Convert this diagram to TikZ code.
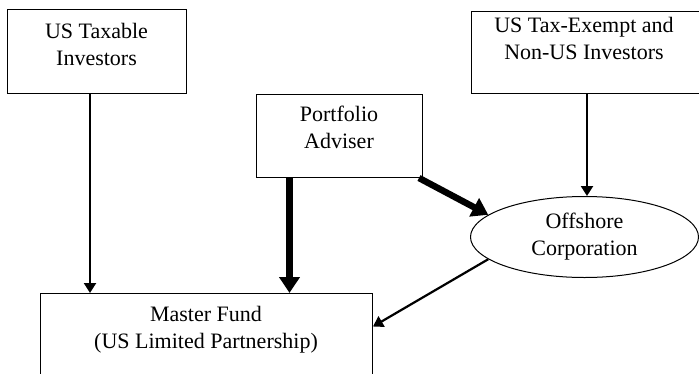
\documentclass[tikz,border=0pt]{standalone}
\usepackage{fontspec}
\setmainfont{Liberation Serif}
\usetikzlibrary{arrows.meta,shapes.geometric}
\begin{document}
\begin{tikzpicture}[x=1pt,y=-1pt,
  box/.style={draw,line width=1pt,inner sep=0pt,anchor=north west},
  lbl/.style={align=center,font=\fontsize{22}{27}\selectfont,inner sep=0pt},
  thinarrow/.style={line width=2.2pt,-{Triangle[length=10pt,width=12pt]}},
  thickarrow/.style={line width=6.5pt,-{Triangle[length=16pt,width=20pt]}}]
\useasboundingbox (0,0) rectangle (699,373);
\node[box,minimum width=179pt,minimum height=84pt] (b1) at (7,9) {};
\node[box,minimum width=231pt,minimum height=82pt] (b2) at (471,11) {};
\node[box,minimum width=166pt,minimum height=83pt] (pa) at (256,94) {};
\node[box,minimum width=332pt,minimum height=90pt] (mf) at (40,293) {};
\node[draw,ellipse,line width=1pt,inner sep=0pt,minimum width=228pt,minimum height=81pt,
      align=center,font=\fontsize{22}{27}\selectfont] (oc) at (584.5,237) {Offshore\\Corporation};
\node[lbl] (t1) at (96.5,44) {US Taxable\\Investors};
\node[lbl] (t2) at (584,38.5) {US Tax-Exempt and\\Non-US Investors};
\node[lbl] (t3) at (339,127) {Portfolio\\Adviser};
\node[lbl] (t5) at (206,329.5) {Master Fund\\(US Limited Partnership)};
\coordinate (c1) at (90,0);
\draw[thinarrow] (b1.south -| c1) -- (mf.north -| c1);
\draw[thinarrow] (b2.south) -- (b2.south |- oc.north);
\draw[thickarrow] ([xshift=-50pt]pa.south) -- ([xshift=-50pt]pa.south |- mf.north);
\draw[thickarrow] ([xshift=-4pt]pa.south east) -- (oc.167);
\draw[thinarrow] (oc.193) -- ([yshift=12pt]mf.east);
\end{tikzpicture}
\end{document}
